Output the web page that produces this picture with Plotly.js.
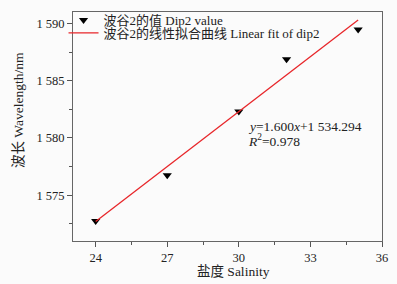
<!DOCTYPE html>
<html><head><meta charset="utf-8">
<script src="https://cdn.plot.ly/plotly-3.0.1.min.js"></script>
<style>body{margin:0;background:#fff}</style>
</head><body><div id="c" style="width:397px;height:284px"></div>
<script>
var salinity = [24, 27, 30, 32, 35];
var wavelength = [1572.75, 1576.75, 1582.3, 1586.87, 1589.47];
var slope = 1.600, intercept = 1534.294;
var fitX = [24, 35];
var fitY = fitX.map(function(x){return slope*x+intercept;});
var xTicks = [24, 27, 30, 33, 36];
var yTicks = [1575, 1580, 1585, 1590];
var yTickText = ['1 575','1 580','1 585','1 590'];
var serif = 'Liberation Serif, Times New Roman, Noto Sans CJK SC, serif';
var data = [
 {x: salinity, y: wavelength, mode:'markers', type:'scatter', name:'波谷2的值 Dip2 value', legend:'legend',
  marker:{symbol:'triangle-down', size:8, color:'#000'}},
 {x: fitX, y: fitY, mode:'lines', type:'scatter', name:'波谷2的线性拟合曲线 Linear fit of dip2', legend:'legend2',
  line:{color:'#e8262a', width:1.3}}
];
var legFont = {size:13, family:serif, color:'#222'};
var layout = {
 width:397, height:284, margin:{l:73, r:15, t:12, b:43, autoexpand:false},
 paper_bgcolor:'#fbfbfb', plot_bgcolor:'#fbfbfb',
 font:{family:serif, size:12, color:'#222'},
 showlegend:true,
 legend:{xref:'container', yref:'container', x:0.160, y:0.982, xanchor:'left', yanchor:'top', bgcolor:'rgba(0,0,0,0)', font:legFont},
 legend2:{xref:'container', yref:'container', x:0.160, y:0.937, xanchor:'left', yanchor:'top', bgcolor:'rgba(0,0,0,0)', font:legFont},
 xaxis:{range:[23.05,36], tickvals:xTicks, ticks:'outside', ticklen:5, tickcolor:'#555', showgrid:false, zeroline:false,
   showline:true, linecolor:'#666', linewidth:1, mirror:true,
   minor:{dtick:1.5, tick0:24, ticks:'outside', ticklen:3, tickcolor:'#555'},
   tickfont:{size:12.5, family:serif, color:'#222'}},
 yaxis:{range:[1571,1591], tickvals:yTicks, ticktext:yTickText, ticks:'outside', ticklen:5, tickcolor:'#555', showgrid:false, zeroline:false,
   showline:true, linecolor:'#666', linewidth:1, mirror:true,
   minor:{dtick:2.5, tick0:1575, ticks:'outside', ticklen:3, tickcolor:'#555'},
   tickfont:{size:12.5, family:serif, color:'#222'}},
 annotations:[
  {xref:'paper', yref:'paper', x:(245.5-73)/309, y:(241-126)/229, xanchor:'left', yanchor:'middle', showarrow:false,
   text:'<i>y</i>=1.600<i>x</i>+1 534.294', font:{size:13.5, family:serif, color:'#222'}},
  {xref:'paper', yref:'paper', x:(245.5-73)/309, y:(241-140)/229, xanchor:'left', yanchor:'middle', showarrow:false,
   text:'<i>R</i><sup>2</sup>=0.978', font:{size:13.5, family:serif, color:'#222'}},
  {xref:'paper', yref:'paper', x:(18-73)/309, y:(241-110)/229, xanchor:'center', yanchor:'middle', showarrow:false, textangle:-90,
   text:'波长 Wavelength/nm', font:{size:13.5, family:serif, color:'#222'}},
  {xref:'paper', yref:'paper', x:(233-73)/309, y:(241-271)/229, xanchor:'center', yanchor:'middle', showarrow:false,
   text:'盐度 Salinity', font:{size:13.5, family:serif, color:'#222'}}
 ]
};
Plotly.newPlot('c', data, layout, {staticPlot:true, displayModeBar:false});
</script></body></html>
